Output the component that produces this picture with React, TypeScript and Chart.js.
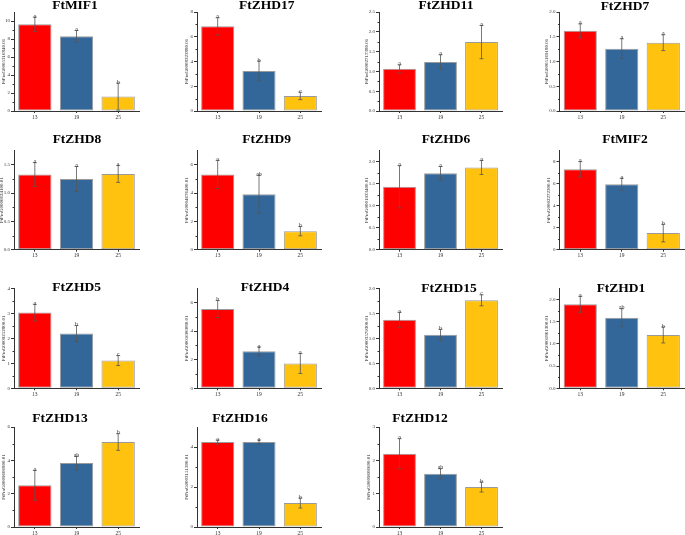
import React, { useEffect, useRef } from 'react';
import { Chart, registerables } from 'chart.js';
Chart.register(...registerables);

const categories = ['13', '19', '25'];
const geneNames = ['FtMIF1', 'FtZHD17', 'FtZHD11', 'FtZHD7', 'FtZHD8', 'FtZHD9', 'FtZHD6', 'FtMIF2', 'FtZHD5', 'FtZHD4', 'FtZHD15', 'FtZHD1', 'FtZHD13', 'FtZHD16', 'FtZHD12'];
const geneIds = [
  'FtPinG0005316840.01', 'FtPinG0008323880.01', 'FtPinG0002717380.01', 'FtPinG0005169180.01',
  'FtPinG0006624100.01', 'FtPinG0004676400.01', 'FtPinG0001933400.01', 'FtPinG0002272300.01',
  'FtPinG0009252800.01', 'FtPinG0005606080.01', 'FtPinG0003579300.01', 'FtPinG0001861300.01',
  'FtPinG0009606800.01', 'FtPinG0003151300.01', 'FtPinG0009606600.01',
];
const meanValues = [
  [9.63, 8.3, 1.6], [6.84, 3.24, 1.22], [1.065, 1.24, 1.74], [1.62, 1.26, 1.38],
  [1.33, 1.25, 1.34], [5.32, 3.92, 1.31], [1.43, 1.74, 1.87], [7.31, 5.95, 1.51],
  [3.03, 2.19, 1.11], [5.55, 2.59, 1.74], [1.37, 1.07, 1.76], [1.89, 1.59, 1.2],
  [2.5, 3.84, 5.1], [4.25, 4.25, 1.2], [2.2, 1.6, 1.2],
];
const sdValues = [
  [0.8, 0.65, 1.5], [0.7, 0.8, 0.3], [0.1, 0.18, 0.42], [0.14, 0.2, 0.16],
  [0.21, 0.22, 0.15], [1.0, 1.35, 0.33], [0.48, 0.15, 0.16], [0.7, 0.55, 0.8],
  [0.33, 0.32, 0.2], [0.6, 0.3, 0.7], [0.15, 0.11, 0.11], [0.18, 0.2, 0.18],
  [0.9, 0.4, 0.5], [0.1, 0.1, 0.25], [0.45, 0.15, 0.15],
];
const letterLabels = [
  ['a', 'a', 'b'], ['a', 'b', 'c'], ['a', 'a', 'a'], ['a', 'a', 'a'],
  ['a', 'a', 'a'], ['a', 'ab', 'b'], ['a', 'a', 'a'], ['a', 'a', 'b'],
  ['a', 'b', 'c'], ['b', 'a', 'a'], ['a', 'b', 'c'], ['a', 'ab', 'b'],
  ['a', 'ab', 'b'], ['a', 'a', 'b'], ['a', 'ab', 'b'],
];
const axisMax = [11, 8, 2.5, 2.0, 1.75, 7, 2.25, 9, 4, 7, 2.0, 2.25, 6, 5, 3];
const axisStep = [2, 2, 0.5, 0.5, 0.5, 2, 0.5, 2, 1, 2, 0.5, 0.5, 2, 2, 1];
const barColors = ['#FF0000', '#336699', '#FFC20E'];

// layout (page coordinates)
const colAxisX = [14, 197, 379, 559.5];
const colRight = [139, 321, 502, 684];
const rowTop = [12, 150.7, 288.3, 427];
const rowBottom = [111, 249.7, 388.3, 527];
const titlePos = [
  [75, 6], [266.7, 6], [446, 6], [625, 6.5],
  [77, 140], [266.7, 140], [446, 140], [625, 140],
  [76.7, 288], [265, 288], [449, 289], [621, 289],
  [60, 419], [240, 419], [420, 419],
];

const W = 685;
const H = 535;
const YW = 12;
const XH = 8;
const FONT = 'Liberation Serif';

function Panel({ idx }: { idx: number }) {
  const ref = useRef<HTMLCanvasElement | null>(null);
  useEffect(() => {
    const row = Math.floor(idx / 4);
    const col = idx % 4;
    const l = colAxisX[col];
    const r = colRight[col];
    const t = rowTop[row];
    const b = rowBottom[row];
    const dec = axisStep[idx] < 1 ? 1 : 0;
    const means = meanValues[idx];
    const sds = sdValues[idx];
    const letters = letterLabels[idx];

    const decor = {
      id: 'decor' + idx,
      afterDatasetsDraw(chart: any) {
        const ctx = chart.ctx;
        const ys = chart.scales.y;
        const meta = chart.getDatasetMeta(0);
        ctx.save();
        ctx.strokeStyle = '#555';
        ctx.lineWidth = 0.8;
        meta.data.forEach((el: any, i: number) => {
          const x = el.x;
          const yHi = ys.getPixelForValue(means[i] + sds[i]);
          const yLo = ys.getPixelForValue(Math.max(0, means[i] - sds[i]));
          ctx.beginPath();
          ctx.moveTo(x, yHi);
          ctx.lineTo(x, yLo);
          ctx.moveTo(x - 2, yHi);
          ctx.lineTo(x + 2, yHi);
          ctx.moveTo(x - 2, yLo);
          ctx.lineTo(x + 2, yLo);
          ctx.stroke();
          ctx.fillStyle = '#333';
          ctx.font = `6px "${FONT}"`;
          ctx.textAlign = 'center';
          ctx.textBaseline = 'middle';
          ctx.fillText(letters[i], x, yHi - 1);
        });
        ctx.strokeStyle = '#333';
        ctx.lineWidth = 1;
        const step = axisStep[idx];
        for (let v = step / 2; v < axisMax[idx]; v += step) {
          if (Math.abs(v / step - Math.round(v / step)) < 1e-6) continue;
          const y = Math.round(ys.getPixelForValue(v)) + 0.5;
          ctx.beginPath();
          ctx.moveTo(l - 1.5, y);
          ctx.lineTo(l, y);
          ctx.stroke();
        }
        ctx.fillStyle = '#000';
        ctx.font = `bold 13.5px "${FONT}"`;
        ctx.textAlign = 'center';
        ctx.textBaseline = 'middle';
        ctx.fillText(geneNames[idx], titlePos[idx][0], titlePos[idx][1]);
        ctx.save();
        ctx.translate(chart.chartArea.left - (dec ? 12.5 : 10.5), (chart.chartArea.top + chart.chartArea.bottom) / 2);
        ctx.rotate(-Math.PI / 2);
        ctx.font = `5px "${FONT}"`;
        ctx.fillStyle = '#222';
        ctx.textAlign = 'center';
        ctx.textBaseline = 'middle';
        ctx.fillText(geneIds[idx], 0, 0);
        ctx.restore();
        ctx.restore();
      },
    };

    const chart = new Chart(ref.current as HTMLCanvasElement, {
      type: 'bar',
      data: {
        labels: categories,
        datasets: [
          {
            data: means,
            backgroundColor: barColors,
            borderColor: '#9a9a9a',
            borderWidth: 1,
            borderSkipped: false,
            categoryPercentage: 0.8,
            barPercentage: 1.0,
          },
        ],
      },
      options: {
        responsive: false,
        animation: false,
        layout: { padding: { left: l - YW, right: W - r, top: t, bottom: H - b - XH } },
        plugins: { legend: { display: false }, tooltip: { enabled: false }, title: { display: false } },
        scales: {
          x: {
            grid: { display: true, offset: false, drawOnChartArea: false, drawTicks: true, tickLength: 2, color: '#333' },
            border: { display: true, color: '#333', width: 1 },
            ticks: { font: { family: FONT, size: 5.5 }, color: '#333', padding: 1, maxRotation: 0 },
            afterFit: (s: any) => { s.height = XH; },
          },
          y: {
            min: 0,
            max: axisMax[idx],
            grid: { display: true, drawOnChartArea: false, drawTicks: true, tickLength: 3, color: '#333' },
            border: { display: true, color: '#333', width: 1 },
            ticks: {
              stepSize: axisStep[idx],
              includeBounds: false,
              callback: (v: any) => Number(v).toFixed(dec),
              font: { family: FONT, size: 5 },
              color: '#333',
              padding: 1,
            },
            afterFit: (s: any) => { s.width = YW; },
          },
        },
      } as any,
      plugins: [decor],
    });
    return () => chart.destroy();
  }, [idx]);
  return <canvas ref={ref} width={W} height={H} style={{ position: 'absolute', left: 0, top: 0 }} />;
}

export default function App() {
  return (
    <div style={{ position: 'fixed', left: 0, top: 0, width: W, height: H, background: '#fff', overflow: 'hidden' }}>
      {geneNames.map((_, i) => (
        <Panel key={i} idx={i} />
      ))}
    </div>
  );
}
